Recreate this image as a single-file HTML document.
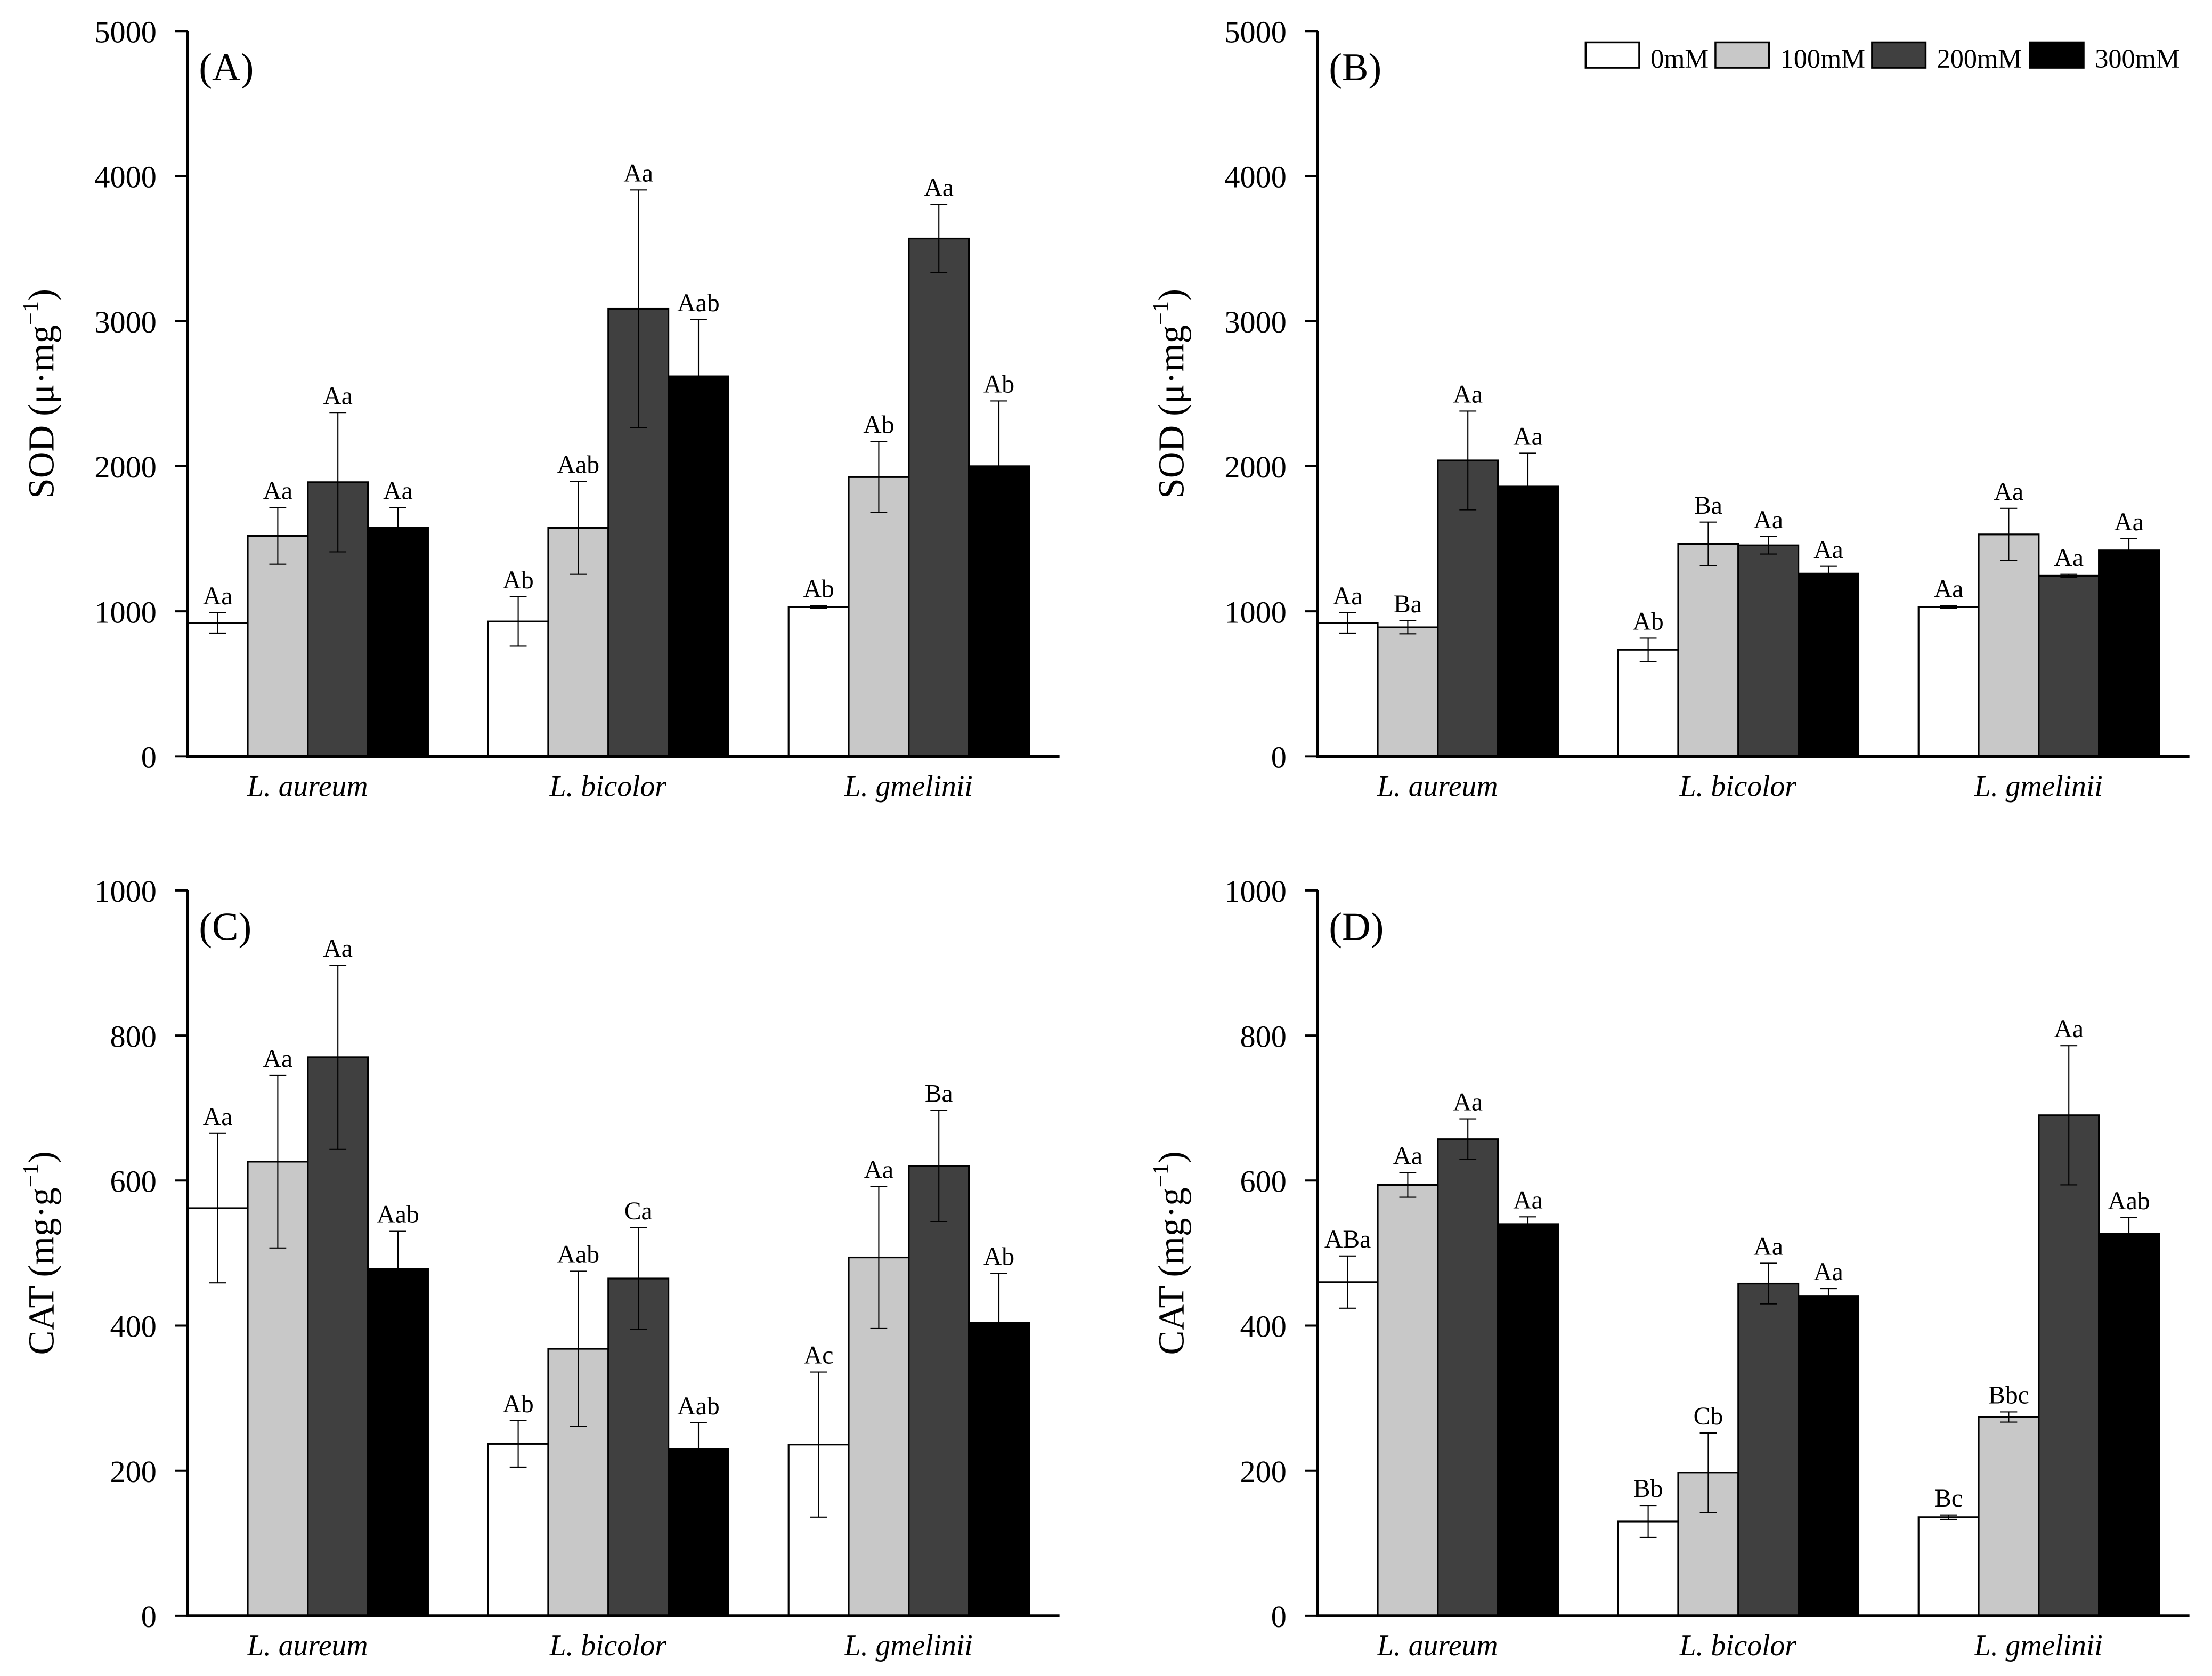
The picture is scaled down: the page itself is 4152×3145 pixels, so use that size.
<!DOCTYPE html>
<html><head><meta charset="utf-8"><style>
html,body{margin:0;padding:0;background:#fff;}
svg{display:block;}
text{font-family:"Liberation Serif","DejaVu Serif",serif;fill:#000;}
</style></head><body>
<svg id="fig" width="4152" height="3145" viewBox="0 0 1568 1187.7" xmlns="http://www.w3.org/2000/svg"></svg>
<script>
const categories = ["L. aureum","L. bicolor","L. gmelinii"];
const seriesNames = ["0mM","100mM","200mM","300mM"];
const colors = ["#ffffff","#c8c8c8","#404040","#000000"];
// Panel A (SOD)
const aVals = [[920,1520,1890,1575],[930,1575,3085,2620],[1030,1925,3570,2000]];
const aErr  = [[70,195,480,140],[170,320,820,390],[10,245,235,450]];
const aLab  = [["Aa","Aa","Aa","Aa"],["Ab","Aab","Aa","Aab"],["Ab","Ab","Aa","Ab"]];
// Panel B (SOD)
const bVals = [[920,890,2040,1860],[735,1465,1455,1260],[1030,1530,1245,1420]];
const bErr  = [[70,45,340,230],[80,150,60,50],[10,180,10,80]];
const bLab  = [["Aa","Ba","Aa","Aa"],["Ab","Ba","Aa","Aa"],["Aa","Aa","Aa","Aa"]];
// Panel C (CAT)
const cVals = [[562,626,770,478],[237,368,465,230],[236,494,620,404]];
const cErr  = [[103,119,127,52],[32,107,70,36],[100,98,77,68]];
const cLab  = [["Aa","Aa","Aa","Aab"],["Ab","Aab","Ca","Aab"],["Ac","Aa","Ba","Ab"]];
// Panel D (CAT)
const dVals = [[460,594,657,540],[130,197,458,441],[136,274,690,527]];
const dErr  = [[36,17,28,10],[22,55,28,10],[3,7,96,22]];
const dLab  = [["ABa","Aa","Aa","Aa"],["Bb","Cb","Aa","Aa"],["Bc","Bbc","Aa","Aab"]];
const sodTicks = [0,1000,2000,3000,4000,5000];
const catTicks = [0,200,400,600,800,1000];

const NS="http://www.w3.org/2000/svg";
const svg=document.getElementById('fig');
function mk(tag,attrs,parent){const e=document.createElementNS(NS,tag);for(const k in attrs)e.setAttribute(k,attrs[k]);(parent||svg).appendChild(e);return e;}

function panel(cfg){
  const g=mk('g',{});
  
  
  const x0=cfg.x0, top=cfg.top, bot=cfg.bot, xEnd=x0+618;
  const ymax=cfg.ticks[cfg.ticks.length-1];
  const y=v=>bot-(v/ymax)*(bot-top);
  const bw=42.6, gs=213;
  const xb=(gi,si)=>x0+gi*gs+si*bw;
  cfg.vals.forEach((grp,gi)=>grp.forEach((v,si)=>{
    const r=mk('rect',{x:xb(gi,si),y:y(v),width:bw,height:bot-y(v),fill:colors[si],stroke:'#000','stroke-width':1.2},g);
    
    
    const cx=xb(gi,si)+bw/2, e=cfg.err[gi][si];
    const eb=mk('path',{d:`M${cx},${y(v+e)}V${y(Math.max(0,v-e))}M${cx-6},${y(v+e)}H${cx+6}M${cx-6},${y(Math.max(0,v-e))}H${cx+6}`,stroke:'#000','stroke-width':0.8,fill:'none'},g);
    
    
    const t=mk('text',{x:cx,y:y(v+e)-6,'text-anchor':'middle','font-size':18},g);
    t.textContent=cfg.lab[gi][si];
    
    
  }));
  const ax=mk('path',{d:`M${x0},${top}V${bot}H${xEnd}`,stroke:'#000','stroke-width':2,fill:'none'},g);
  
  
  cfg.ticks.forEach(tv=>{
    mk('line',{x1:x0-9,x2:x0,y1:y(tv),y2:y(tv),stroke:'#000','stroke-width':1.5},g);
    const t=mk('text',{x:x0-22,y:y(tv)+8,'text-anchor':'end','font-size':22},g);
    t.textContent=tv;
    
    
  });
  categories.forEach((c,gi)=>{
    const t=mk('text',{x:x0+gi*gs+85,y:bot+28,'text-anchor':'middle','font-size':21,'font-style':'italic'},g);
    t.textContent=c;
    
    
  });
  const pl=mk('text',{x:x0+8,y:top+35,'font-size':28},g);
  pl.textContent=cfg.label;
  
  
  const yl=mk('text',{transform:`translate(${x0-95},${(top+bot)/2}) rotate(-90)`,'text-anchor':'middle','font-size':26},g);
  yl.innerHTML=cfg.ylab;
  
  
}
const sodLab='SOD (μ·mg<tspan dy="-11" font-size="16">−1</tspan><tspan dy="11">)</tspan>';
const catLab='CAT (mg·g<tspan dy="-11" font-size="16">−1</tspan><tspan dy="11">)</tspan>';
panel({name:'panel-a',key:'a',x0:133,top:22,bot:536,ticks:sodTicks,vals:aVals,err:aErr,lab:aLab,label:'(A)',ylab:sodLab});
panel({name:'panel-b',key:'b',x0:934,top:22,bot:536,ticks:sodTicks,vals:bVals,err:bErr,lab:bLab,label:'(B)',ylab:sodLab});
panel({name:'panel-c',key:'c',x0:133,top:631,bot:1145,ticks:catTicks,vals:cVals,err:cErr,lab:cLab,label:'(C)',ylab:catLab});
panel({name:'panel-d',key:'d',x0:934,top:631,bot:1145,ticks:catTicks,vals:dVals,err:dErr,lab:dLab,label:'(D)',ylab:catLab});
const lg=mk('g',{});


const lx=[1124,1216,1327,1439];
seriesNames.forEach((n,i)=>{
  const r=mk('rect',{x:lx[i],y:30,width:38,height:18,fill:colors[i],stroke:'#000','stroke-width':1.3},lg);
  
  
  const t=mk('text',{x:lx[i]+46,y:48,'font-size':19},lg);
  t.textContent=n;
  
  
});
</script>
</body></html>
